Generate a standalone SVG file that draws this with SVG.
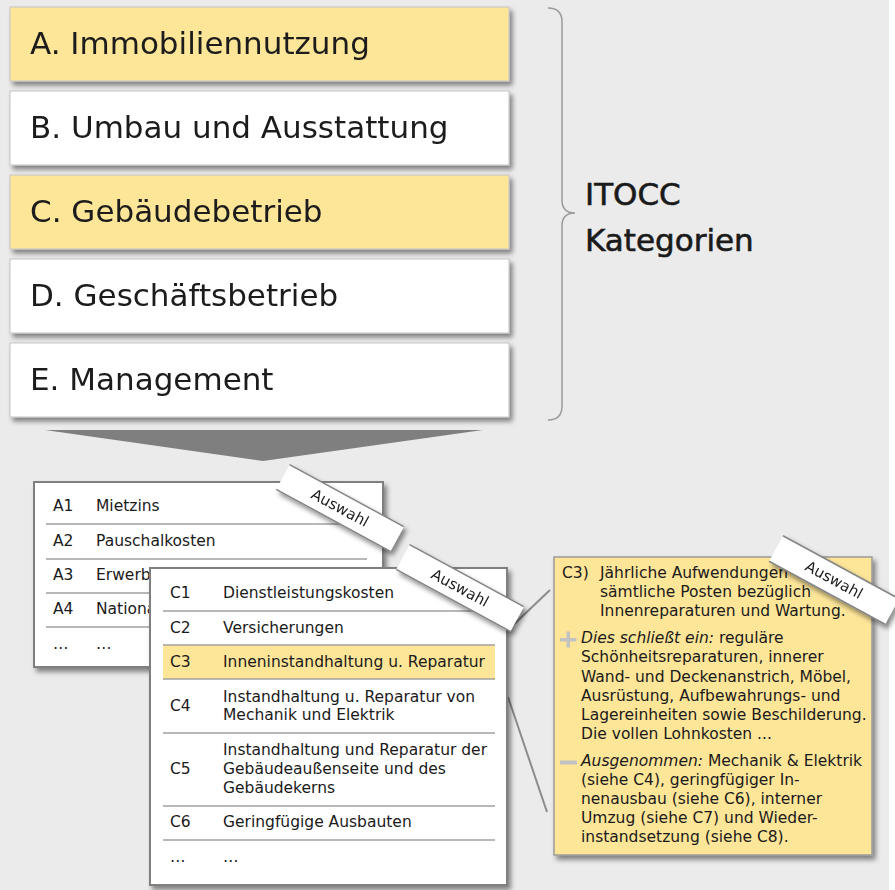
<svg xmlns="http://www.w3.org/2000/svg" width="895" height="890" viewBox="0 0 895 890">
<defs>
<filter id="sh" x="-10%" y="-10%" width="130%" height="140%"><feDropShadow dx="3" dy="4" stdDeviation="2.5" flood-color="#000" flood-opacity="0.45"/></filter>
<style>
text{font-family:"DejaVu Sans","Liberation Sans",sans-serif;fill:#1a1a1a}
.cat{fill:#fff;stroke:#c4c4c4;stroke-width:1}
.yel{fill:#fee699}
.big{font-size:31px}
.hd{stroke:#1a1a1a;stroke-width:0.6}
.t{font-size:15.5px}
.tbl{fill:#fff;stroke:#7f7f7f;stroke-width:2}
.sep{stroke:#a0a0a0;stroke-width:1.5}
.lbl rect{fill:#fff}
.lbl line{stroke:#858585;stroke-width:1.5}
.lbl text{font-size:15px;text-anchor:middle}
.con{stroke:#8c8c8c;stroke-width:2;fill:none}
.it{font-style:italic}
.icon{fill:#c2c2c2}
</style>
</defs>
<rect x="0" y="0" width="889" height="890" fill="#ebebeb"/>
<rect x="889" y="0" width="6" height="890" fill="#ffffff"/>

<g id="cat-a" filter="url(#sh)"><rect x="10" y="7" width="499" height="74" class="cat yel"/><text x="30" y="54" class="big">A. Immobiliennutzung</text></g>
<g id="cat-b" filter="url(#sh)"><rect x="10" y="91" width="499" height="74" class="cat"/><text x="30" y="138" class="big">B. Umbau und Ausstattung</text></g>
<g id="cat-c" filter="url(#sh)"><rect x="10" y="175" width="499" height="74" class="cat yel"/><text x="30" y="222" class="big">C. Gebäudebetrieb</text></g>
<g id="cat-d" filter="url(#sh)"><rect x="10" y="259" width="499" height="74" class="cat"/><text x="30" y="306" class="big">D. Geschäftsbetrieb</text></g>
<g id="cat-e" filter="url(#sh)"><rect x="10" y="343" width="499" height="74" class="cat"/><text x="30" y="390" class="big">E. Management</text></g>

<g id="brace">
<path d="M548,8 Q562,8 562,22 L562,200 Q562,213 575,213 Q562,213 562,226 L562,406 Q562,420 548,420" fill="none" stroke="#9a9a9a" stroke-width="1.5"/>
<text x="585" y="205" class="big hd">ITOCC</text>
<text x="585" y="251" class="big hd">Kategorien</text>
</g>

<g id="funnel"><polygon points="45,430 483,430 263,461" fill="#7f7f7f"/></g>

<g id="connectors">
<line x1="508" y1="630" x2="550" y2="590" class="con"/>
<line x1="508" y1="697" x2="547" y2="812" class="con"/>
</g>

<g id="table-a" class="t">
<rect x="34" y="482" width="349" height="185" class="tbl" filter="url(#sh)"/>
<line x1="46" y1="524" x2="367" y2="524" class="sep"/>
<line x1="46" y1="559" x2="367" y2="559" class="sep"/>
<line x1="46" y1="593" x2="367" y2="593" class="sep"/>
<line x1="46" y1="627" x2="367" y2="627" class="sep"/>
<text x="53" y="511" class="t">A1</text><text x="96" y="511" class="t">Mietzins</text>
<text x="53" y="546" class="t">A2</text><text x="96" y="546" class="t">Pauschalkosten</text>
<text x="53" y="580" class="t">A3</text><text x="96" y="580" class="t">Erwerb</text>
<text x="53" y="614" class="t">A4</text><text x="96" y="614" class="t">National</text>
<text x="53" y="649" class="t">…</text><text x="96" y="649" class="t">…</text>
</g>

<g id="label-1" class="lbl" filter="url(#sh)"><g transform="translate(340,508) rotate(28.5)">
<rect x="-65" y="-14" width="130" height="28"/>
<line x1="-65" y1="-14" x2="65" y2="-14"/><line x1="-65" y1="14" x2="65" y2="14"/>
<text x="0" y="5">Auswahl</text></g></g>

<g id="table-c">
<rect x="150" y="568" width="357" height="317" class="tbl" filter="url(#sh)"/>
<rect x="163" y="645" width="332" height="34" class="yel"/>
<line x1="163" y1="611" x2="495" y2="611" class="sep"/>
<line x1="163" y1="645" x2="495" y2="645" class="sep"/>
<line x1="163" y1="679" x2="495" y2="679" class="sep"/>
<line x1="163" y1="733" x2="495" y2="733" class="sep"/>
<line x1="163" y1="806" x2="495" y2="806" class="sep"/>
<line x1="163" y1="840" x2="495" y2="840" class="sep"/>
<text x="170" y="598" class="t">C1</text><text x="223" y="598" class="t">Dienstleistungskosten</text>
<text x="170" y="633" class="t">C2</text><text x="223" y="633" class="t">Versicherungen</text>
<text x="170" y="667" class="t">C3</text><text x="223" y="667" class="t">Inneninstandhaltung u. Reparatur</text>
<text x="170" y="711" class="t">C4</text><text x="223" y="701.5" class="t">Instandhaltung u. Reparatur von</text><text x="223" y="720" class="t">Mechanik und Elektrik</text>
<text x="170" y="774" class="t">C5</text><text x="223" y="755" class="t">Instandhaltung und Reparatur der</text><text x="223" y="774" class="t">Gebäudeaußenseite und des</text><text x="223" y="793" class="t">Gebäudekerns</text>
<text x="170" y="827" class="t">C6</text><text x="223" y="827" class="t">Geringfügige Ausbauten</text>
<text x="170" y="862" class="t">…</text><text x="223" y="862" class="t">…</text>
</g>

<g id="label-2" class="lbl" filter="url(#sh)"><g transform="translate(460,588) rotate(28.5)">
<rect x="-65" y="-14" width="130" height="28"/>
<line x1="-65" y1="-14" x2="65" y2="-14"/><line x1="-65" y1="14" x2="65" y2="14"/>
<text x="0" y="5">Auswahl</text></g></g>

<g id="note">
<rect x="554" y="557" width="318" height="298" fill="#fee699" stroke="#9a9a9a" stroke-width="1.5" filter="url(#sh)"/>
<text x="562" y="578" class="t">C3)</text>
<text x="600" y="578" class="t">Jährliche Aufwendungen</text>
<text x="600" y="597" class="t">sämtliche Posten bezüglich</text>
<text x="600" y="616" class="t">Innenreparaturen und Wartung.</text>
<rect x="566.5" y="631.5" width="3.5" height="16" class="icon"/>
<rect x="560" y="638" width="16.5" height="3.5" class="icon"/>
<text x="581" y="643" class="t"><tspan class="it">Dies schließt ein:</tspan> reguläre</text>
<text x="581" y="662" class="t">Schönheitsreparaturen, innerer</text>
<text x="581" y="681.5" class="t">Wand- und Deckenanstrich, Möbel,</text>
<text x="581" y="700.5" class="t">Ausrüstung, Aufbewahrungs- und</text>
<text x="581" y="720" class="t">Lagereinheiten sowie Beschilderung.</text>
<text x="581" y="739" class="t">Die vollen Lohnkosten ...</text>
<rect x="560" y="760.5" width="17" height="4" class="icon"/>
<text x="581" y="766" class="t"><tspan class="it">Ausgenommen:</tspan> Mechanik &amp; Elektrik</text>
<text x="581" y="785" class="t">(siehe C4), geringfügiger In-</text>
<text x="581" y="804" class="t">nenausbau (siehe C6), interner</text>
<text x="581" y="823" class="t">Umzug (siehe C7) und Wieder-</text>
<text x="581" y="842" class="t">instandsetzung (siehe C8).</text>
</g>

<g id="label-3" class="lbl" filter="url(#sh)"><g transform="translate(834,580) rotate(28.5)">
<rect x="-66" y="-14.5" width="132" height="29"/>
<line x1="-66" y1="-14.5" x2="66" y2="-14.5"/><line x1="-66" y1="14.5" x2="66" y2="14.5"/>
<text x="0" y="5">Auswahl</text></g></g>
</svg>
